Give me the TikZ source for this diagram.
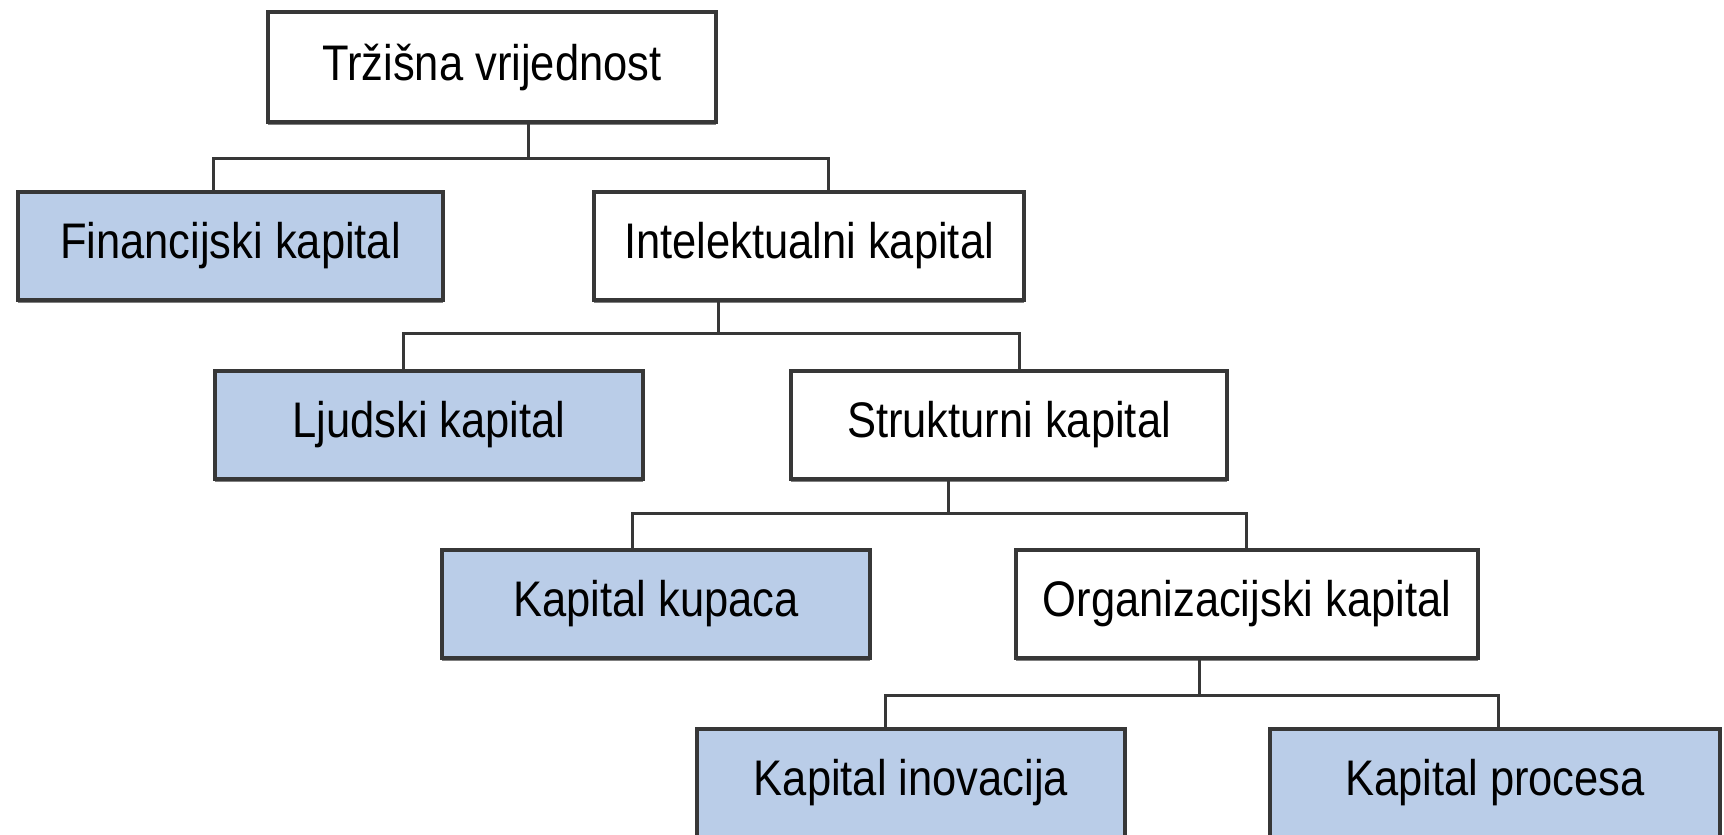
\documentclass[tikz,border=0pt]{standalone}
\usepackage{fontspec}
\setmainfont{Liberation Sans}[FakeStretch=0.87]
\usepackage{tikz}
\usetikzlibrary{%
  positioning
 ,shadows
}
\definecolor{plava}{RGB}{186,205,232}
\definecolor{rub}{RGB}{55,55,55}
\tikzstyle{stablo}=[node distance=89.5pt,on grid,font=\fontsize{25}{30}\selectfont]
\tikzstyle{okvir}=[rectangle,draw=rub,line width=1.7pt,fill=white,minimum width=214pt,minimum height=54pt,inner sep=0pt,general shadow={fill=black!50,shadow yshift=-1.6pt}]
\tikzstyle{plavi}=[okvir,fill=plava]
\tikzstyle{veza}=[draw=rub,line width=1.5pt]

\begin{document}
\begin{tikzpicture}[stablo]
  \useasboundingbox (0,0) rectangle (862pt,-417.5pt);
  \node[okvir,minimum width=224pt,minimum height=55pt] (tv) at (246pt,-33.5pt) {Tržišna vrijednost};
  \node[plavi,minimum width=212.5pt] (fk) [below=of tv,xshift=-130.75pt] {Financijski kapital};
  \node[okvir,minimum width=215pt] (ik) [below=of tv,xshift=158.5pt] {Intelektualni kapital};
  \node[plavi] (lk) [below=of ik,xshift=-190pt] {Ljudski kapital};
  \node[okvir,minimum width=218pt] (sk) [below=of ik,xshift=100pt] {Strukturni kapital};
  \node[plavi] (kk) [below=of sk,xshift=-176.5pt] {Kapital kupaca};
  \node[okvir,minimum width=231pt] (ok) [below=of sk,xshift=119pt] {Organizacijski kapital};
  \node[plavi] (ki) [below=of ok,xshift=-168pt] {Kapital inovacija};
  \node[plavi,minimum width=225pt] (kp) [below=of ok,xshift=124pt] {Kapital procesa};
  % grananje
  \draw[veza] ([xshift=-8.75pt]fk.north) -- ++(0,16pt) -| ([xshift=9.5pt]ik.north);
  \draw[veza] ([xshift=18pt]tv.south) -- ++(0,-17.3pt);
  \draw[veza] ([xshift=-13pt]lk.north) -- ++(0,18pt) -| ([xshift=5pt]sk.north);
  \draw[veza] ([xshift=-45.5pt]ik.south) -- ++(0,-15.8pt);
  \draw[veza] ([xshift=-12pt]kk.north) -- ++(0,17.5pt) -| ([xshift=-0.5pt]ok.north);
  \draw[veza] ([xshift=-30.5pt]sk.south) -- ++(0,-16.3pt);
  \draw[veza] ([xshift=-13pt]ki.north) -- ++(0,16pt) -| ([xshift=1.5pt]kp.north);
  \draw[veza] ([xshift=-24pt]ok.south) -- ++(0,-17.8pt);
\end{tikzpicture}
\end{document}
